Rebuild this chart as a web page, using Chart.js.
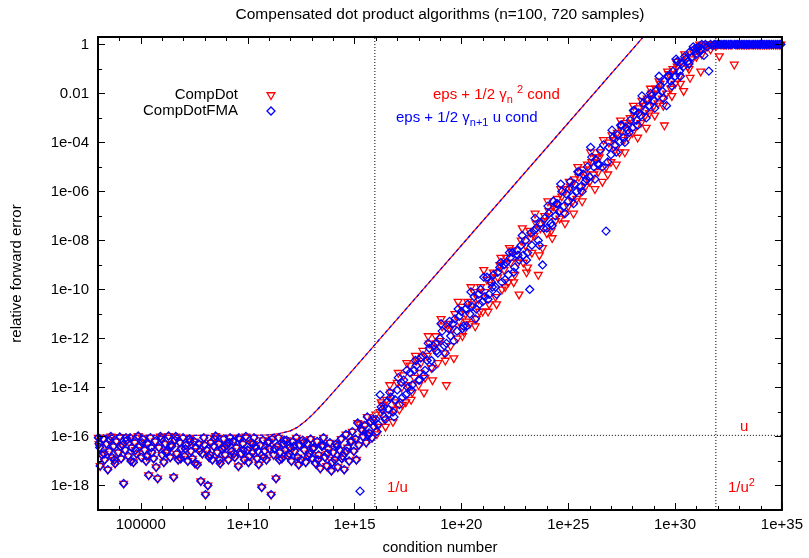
<!DOCTYPE html>
<html>
<head>
<meta charset="utf-8">
<title>Compensated dot product algorithms</title>
<script src="https://cdn.jsdelivr.net/npm/chart.js@4.4.1/dist/chart.umd.min.js"></script>
<style>
  html, body { margin: 0; padding: 0; background: #fff; }
  canvas { display: block; }
</style>
</head>
<body>
<canvas id="chart" width="809" height="558" style="width:809px;height:558px"></canvas>
<script>
// Log-log scatter of relative forward error vs condition number (gnuplot look).
// All sample values are kept as log10 exponents.

const TITLE = "Compensated dot product algorithms (n=100, 720 samples)";
const X_TITLE = "condition number";
const Y_TITLE = "relative forward error";

const X_MIN = 1e3, X_MAX = 1e35;
const Y_MIN = 1e-19, Y_MAX = 2;

// unit roundoff and the two condition thresholds marked by dotted lines
const U = 1.11e-16;
const INV_U = 9.0e15;
const INV_U2 = 8.1e31;

const xLabelExps = [5, 10, 15, 20, 25, 30, 35];
const xLabels = ["100000", "1e+10", "1e+15", "1e+20", "1e+25", "1e+30", "1e+35"];
const yLabelExps = [0, -2, -4, -6, -8, -10, -12, -14, -16, -18];
const yLabels = ["1", "0.01", "1e-04", "1e-06", "1e-08", "1e-10", "1e-12", "1e-14", "1e-16", "1e-18"];

// well-conditioned samples: both algorithms give the same error here
const flatCondLog = [
  3.02, 3.08, 3.10, 3.18, 3.25, 3.31, 3.40, 3.46, 3.52, 3.60, 3.66, 3.73, 3.80, 3.86, 3.95,
  4.02, 4.08, 4.15, 4.20, 4.27, 4.35, 4.42, 4.50, 4.58, 4.66, 4.72, 4.80, 4.88, 4.95,
  5.03, 5.10, 5.18, 5.25, 5.32, 5.37, 5.45, 5.52, 5.60, 5.68, 5.79, 5.85, 5.92,
  6.00, 6.08, 6.15, 6.22, 6.30, 6.38, 6.45, 6.54, 6.60, 6.68, 6.75, 6.83, 6.90, 6.98,
  7.05, 7.12, 7.20, 7.28, 7.35, 7.42, 7.50, 7.58, 7.65, 7.72, 7.81, 7.88, 7.95,
  8.03, 8.08, 8.14, 8.20, 8.28, 8.35, 8.42, 8.50, 8.58, 8.65, 8.72, 8.80, 8.88, 8.95,
  9.02, 9.10, 9.18, 9.25, 9.32, 9.40, 9.48, 9.57, 9.62, 9.70, 9.78, 9.85, 9.92,
  10.00, 10.08, 10.15, 10.22, 10.30, 10.38, 10.45, 10.52, 10.60, 10.66, 10.72, 10.80, 10.88, 10.95,
  11.02, 11.10, 11.15, 11.22, 11.33, 11.38, 11.45, 11.52, 11.60, 11.68, 11.75, 11.82, 11.90, 11.98,
  12.05, 12.12, 12.20, 12.28, 12.35, 12.42, 12.50, 12.58, 12.65, 12.72, 12.80, 12.88, 12.95,
  13.02, 13.10, 13.18, 13.25, 13.32, 13.40, 13.48, 13.55, 13.62, 13.70, 13.78, 13.85, 13.92,
  14.00, 14.08, 14.15, 14.22, 14.30, 14.38, 14.45, 14.52, 14.60, 14.68, 14.75, 14.82, 14.90, 14.97,
  15.05, 15.15, 15.20, 15.32, 15.40, 15.48, 15.55, 15.60, 15.68, 15.75, 15.82, 15.90,
];
const flatErrLog = [
  -16.05, -16.45, -17.20, -16.75, -16.10, -16.95, -16.30, -17.35, -16.60, -16.00, -16.85, -16.40, -17.10, -16.20, -16.65,
  -16.02, -16.90, -16.35, -17.92, -16.55, -16.15, -16.80, -16.05, -16.45, -17.05, -16.25, -16.70, -15.98, -16.40,
  -16.85, -16.10, -16.55, -17.00, -16.30, -17.58, -16.05, -16.65, -16.90, -16.20, -17.71, -16.45, -16.00,
  -16.75, -17.05, -16.30, -16.60, -15.98, -16.85, -16.40, -17.66, -16.15, -16.70, -16.95, -16.25, -16.50, -16.05,
  -16.80, -16.35, -17.00, -16.10, -16.60, -16.90, -16.20, -16.45, -17.15, -16.30, -17.82, -16.70, -16.05,
  -18.37, -16.55, -18.00, -16.85, -16.25, -16.95, -16.40, -15.98, -16.65, -16.30, -17.10, -16.50, -16.10, -16.75,
  -16.35, -16.95, -16.05, -16.60, -16.20, -16.85, -16.45, -17.21, -16.10, -16.70, -16.30, -16.95, -16.00,
  -16.55, -16.80, -16.25, -16.65, -16.05, -16.45, -16.90, -17.14, -16.35, -18.07, -16.15, -16.60, -16.95, -16.25,
  -16.50, -18.37, -16.10, -16.75, -17.71, -16.40, -16.05, -16.65, -16.90, -16.30, -16.55, -16.15, -16.80, -16.45,
  -17.00, -16.20, -16.60, -16.05, -16.85, -16.35, -16.95, -16.15, -16.55, -17.05, -16.30, -16.70, -16.10,
  -16.90, -16.45, -17.10, -16.20, -16.75, -17.30, -16.40, -16.05, -16.85, -17.20, -16.50, -16.25, -17.40,
  -16.65, -16.95, -16.30, -17.25, -16.55, -16.10, -16.80, -17.35, -15.92, -16.45, -17.00, -16.20, -15.80, -16.60,
  -16.10, -15.45, -16.35, -15.70, -16.00, -15.55, -16.25, -15.20, -15.85, -15.40, -16.05, -15.60,
];
const flat2CondLog = [
  3.05, 3.28, 3.55, 3.77, 4.05, 4.31, 4.54, 4.76, 5.06, 5.28,
  5.49, 5.72, 5.96, 6.18, 6.41, 6.64, 6.87, 7.09, 7.31, 7.54,
  7.76, 7.99, 8.24, 8.46, 8.69, 8.91, 9.14, 9.36, 9.59, 9.81,
  10.04, 10.26, 10.49, 10.76, 10.99, 11.26, 11.49, 11.71, 11.94, 12.16,
  12.39, 12.61, 12.84, 13.06, 13.29, 13.51, 13.74, 13.96, 14.19, 14.41,
  14.64, 14.86, 15.09, 15.36, 15.64, 15.86,
];
const flat2ErrLog = [
  -16.30, -16.70, -16.15, -16.95, -16.40, -16.05, -17.00, -16.55, -16.25, -16.80,
  -16.45, -17.25, -16.10, -16.65, -16.35, -16.00, -16.90, -16.50, -16.20, -17.10,
  -16.60, -16.35, -16.75, -16.10, -16.95, -16.45, -16.25, -16.70, -16.05, -16.55,
  -17.05, -16.30, -16.60, -16.85, -16.20, -16.50, -16.95, -16.15, -16.70, -16.40,
  -17.15, -16.25, -16.80, -16.50, -16.95, -16.35, -16.70, -17.05, -16.40, -16.90,
  -16.60, -16.20, -16.95, -15.75, -15.95, -15.30,
];

// ill-conditioned samples: error grows with the condition number
const riseCondLog = [
  15.26, 16.00, 16.10, 16.20, 16.30, 16.40, 16.50, 16.60, 16.70, 16.80, 16.90,
  17.00, 17.10, 17.20, 17.30, 17.40, 17.50, 17.60, 17.70, 17.80, 17.90,
  18.00, 18.10, 18.20, 18.30, 18.40, 18.50, 18.60, 18.70, 18.80, 18.90,
  19.00, 19.10, 19.20, 19.30, 19.40, 19.50, 19.60, 19.70, 19.80, 19.90,
  20.00, 20.10, 20.20, 20.30, 20.40, 20.50, 20.60, 20.70, 20.80, 20.90,
  21.00, 21.10, 21.20, 21.30, 21.40, 21.50, 21.60, 21.70, 21.80, 21.90,
  22.00, 22.10, 22.20, 22.30, 22.40, 22.50, 22.60, 22.70, 22.80, 22.90,
  23.00, 23.10, 23.20, 23.30, 23.40, 23.50, 23.60, 23.70, 23.80, 23.90,
  24.00, 24.10, 24.20, 24.30, 24.40, 24.50, 24.60, 24.70, 24.80, 24.90,
  25.00, 25.10, 25.20, 25.30, 25.40, 25.50, 25.60, 25.70, 25.80, 25.90,
  26.00, 26.10, 26.20, 26.30, 26.40, 26.50, 26.60, 26.77, 26.90,
  27.00, 27.10, 27.20, 27.30, 27.40, 27.50, 27.60, 27.70, 27.80, 27.90,
  28.00, 28.10, 28.20, 28.30, 28.40, 28.50, 28.60, 28.70, 28.80, 28.90,
  29.00, 29.10, 29.20, 29.30, 29.40, 29.50, 29.60, 29.70, 29.80, 29.90,
  30.00, 30.10, 30.20, 30.30, 30.40, 30.50, 30.60, 30.70, 30.80, 30.90,
  31.00, 31.10, 31.20,
];
const riseCompDotLog = [
  -15.50, -15.10, -15.60, -15.00, -14.70, -15.30, -14.50, -15.10, -14.20, -15.40, -14.60,
  -13.80, -14.90, -14.00, -13.50, -14.60, -13.90, -13.10, -14.20, -13.60, -12.90,
  -13.90, -13.00, -12.50, -13.60, -12.70, -12.20, -13.20, -12.40, -11.90, -13.00,
  -12.10, -11.50, -12.60, -13.90, -11.40, -12.30, -11.60, -11.00, -12.00, -11.30,
  -10.70, -11.70, -11.00, -10.50, -11.40, -10.60, -10.10, -11.20, -10.40, -9.90,
  -10.90, -10.10, -9.60, -10.60, -9.80, -9.30, -10.30, -9.50, -9.00, -10.00,
  -9.20, -8.70, -9.70, -8.90, -8.40, -9.40, -8.60, -10.20, -8.00, -8.90,
  -8.20, -9.10, -7.60, -8.50, -7.80, -7.30, -9.40, -7.50, -8.30, -7.00,
  -7.70, -6.80, -7.60, -6.60, -7.20, -6.30, -7.10, -6.20, -6.90, -5.90,
  -6.60, -5.80, -6.40, -5.50, -6.30, -5.40, -6.00, -5.10, -5.80, -4.90,
  -5.60, -4.80, -5.30, -4.60, -5.20, -4.40, -5.60, -5.00, -4.00,
  -4.80, -3.90, -4.30, -3.60, -4.40, -3.50, -3.90, -3.20, -3.80, -3.00,
  -3.60, -2.90, -3.30, -2.60, -3.20, -2.50, -2.90, -2.20, -2.80, -2.00,
  -2.50, -1.80, -2.40, -1.60, -2.20, -3.30, -2.00, -1.20, -1.80, -1.00,
  -1.60, -0.90, -1.30, -0.70, -1.90, -0.50, -0.90, -1.36, -0.60, -0.20,
  -0.50, -0.10, -1.10,
];
const riseCompDotFmaLog = [
  -18.23, -15.30, -15.50, -14.30, -14.90, -15.20, -14.60, -14.90, -14.40, -15.00, -14.50,
  -14.10, -14.70, -13.80, -13.70, -14.30, -14.00, -13.40, -13.90, -13.30, -13.10,
  -13.70, -12.80, -12.70, -13.30, -12.90, -12.40, -12.90, -12.30, -12.20, -12.60,
  -12.00, -11.70, -12.30, -12.20, -11.60, -11.90, -11.40, -11.20, -11.70, -11.10,
  -10.90, -11.50, -10.80, -10.60, -11.00, -10.70, -10.30, -10.80, -10.20, -10.00,
  -10.50, -10.30, -9.50, -10.20, -9.70, -9.40, -9.90, -9.30, -9.10, -9.70,
  -9.00, -8.90, -9.40, -8.70, -8.50, -9.10, -8.40, -8.80, -8.20, -8.60,
  -8.00, -8.50, -10.00, -8.20, -7.60, -7.50, -8.00, -7.30, -9.00, -7.10,
  -7.50, -6.90, -7.30, -6.40, -7.00, -6.50, -6.80, -6.00, -6.60, -6.10,
  -6.40, -5.60, -6.20, -5.70, -6.00, -5.20, -5.80, -5.30, -5.60, -5.00,
  -5.40, -4.60, -5.00, -4.70, -4.90, -4.30, -5.00, -7.62, -4.20,
  -4.50, -3.80, -4.10, -3.70, -4.00, -3.30, -3.80, -3.40, -3.50, -3.10,
  -3.40, -2.70, -3.10, -2.80, -2.90, -2.40, -2.70, -2.30, -2.50, -2.10,
  -2.30, -1.90, -2.10, -1.70, -1.90, -1.50, -2.50, -1.30, -1.50, -1.10,
  -1.30, -0.70, -1.10, -0.80, -0.90, -0.60, -0.70, -0.30, -0.50, -0.20,
  -0.40, -0.10, -0.20,
];
const rise2CondLog = [
  16.05, 16.25, 16.45, 16.65, 16.85, 17.05, 17.25, 17.45, 17.65, 17.85,
  18.05, 18.25, 18.45, 18.65, 18.85, 19.05, 19.25, 19.45, 19.65, 19.85,
  20.05, 20.25, 20.45, 20.65, 20.85, 21.05, 21.25, 21.45, 21.65, 21.85,
  22.05, 22.25, 22.45, 22.65, 22.85, 23.05, 23.25, 23.45, 23.65, 23.85,
  24.05, 24.25, 24.45, 24.65, 24.85, 25.05, 25.25, 25.45, 25.65, 25.85,
  26.05, 26.25, 26.45, 26.65, 26.85, 27.05, 27.25, 27.45, 27.65, 27.85,
  28.05, 28.25, 28.45, 28.65, 28.85, 29.05, 29.25, 29.45, 29.65, 29.85,
  30.05, 30.25, 30.45, 30.65, 30.85,
];
const rise2CompDotLog = [
  -15.9, -14.6, -15.6, -13.9, -14.9, -13.4, -14.7, -13.0, -14.5, -12.7,
  -13.4, -14.2, -11.9, -13.7, -12.2, -11.2, -12.9, -11.6, -12.8, -10.5,
  -11.9, -11.3, -9.9, -11.5, -10.9, -9.2, -10.9, -9.5, -10.6, -8.7,
  -9.9, -8.3, -9.7, -8.9, -7.5, -9.3, -7.9, -6.9, -8.6, -7.2,
  -6.4, -7.9, -6.7, -5.9, -7.3, -5.6, -6.9, -5.0, -6.4, -5.3,
  -4.4, -5.9, -4.6, -3.9, -5.3, -3.7, -4.9, -3.1, -4.4, -3.3,
  -2.5, -3.8, -2.3, -3.4, -1.8, -2.9, -1.5, -2.5, -1.1, -2.1,
  -0.7, -1.6, -0.4, -1.0, -0.3,
];
const rise2CompDotFmaLog = [
  -15.8, -14.8, -15.3, -14.2, -15.2, -13.6, -14.4, -13.3, -14.1, -12.9,
  -13.7, -13.5, -12.2, -13.2, -12.5, -11.4, -12.6, -11.3, -12.1, -10.8,
  -11.6, -11.5, -10.1, -11.2, -10.6, -9.5, -10.4, -9.9, -10.2, -8.9,
  -9.6, -8.5, -9.3, -8.6, -7.8, -8.8, -7.7, -7.1, -8.2, -7.5,
  -6.6, -7.4, -6.5, -5.7, -6.9, -5.9, -6.5, -5.2, -6.0, -5.5,
  -4.2, -5.5, -4.9, -4.1, -4.8, -3.5, -4.4, -3.3, -4.0, -3.6,
  -2.7, -3.3, -2.1, -3.0, -2.0, -2.6, -1.3, -2.2, -1.3, -1.7,
  -0.6, -1.3, -0.5, -0.8, -0.1,
];

// beyond 1/u^2 the error saturates at 1
const satCondLog = [
  31.05, 31.15, 31.25, 31.35, 31.42, 31.50, 31.58, 31.66, 31.75, 31.83, 31.90,
  32.00, 32.07, 32.15, 32.25, 32.33, 32.40, 32.50, 32.58, 32.66, 32.77, 32.85, 32.93,
  33.00, 33.10, 33.18, 33.26, 33.35, 33.42, 33.50, 33.60, 33.68, 33.76, 33.85, 33.93,
  34.00, 34.10, 34.18, 34.27, 34.35, 34.43, 34.52, 34.60, 34.70, 34.78, 34.87, 34.95,
];
const satCompDotLog = [
  -0.25, 0, -0.40, 0, -0.10, 0, 0, -0.20, 0, 0, -0.05,
  0, -0.48, 0, 0, 0, 0, 0, 0, 0, -0.82, 0, 0,
  0, 0, 0, 0, 0, 0, 0, 0, 0, 0, 0, 0,
  0, 0, 0, 0, 0, 0, 0, 0, 0, 0, 0, 0,
];
const satCompDotFmaLog = [
  -0.15, -0.30, 0, -0.45, 0, -0.10, -1.09, 0, -0.05, 0, 0,
  0, 0, 0, 0, 0, 0, 0, 0, 0, 0, 0, 0,
  0, 0, 0, 0, 0, 0, 0, 0, 0, 0, 0, 0,
  0, 0, 0, 0, 0, 0, 0, 0, 0, 0, 0, 0,
];

// a priori bounds, the two curves lie on top of each other
const boundCond = [1e3, 1e10, 3e10, 1e11, 3e11, 1e12, 2e12, 5e12, 1e13, 2e13, 5e13, 1e14, 1e15, 1e16, 1e20, 1e25, 1e29];
const boundGammaN2 = [1.1e-16, 1.1e-16, 1.12e-16, 1.16e-16, 1.3e-16, 1.7e-16, 2.3e-16, 4.2e-16, 7.3e-16, 1.35e-15, 3.2e-15, 6.3e-15, 6.2e-14, 6.2e-13, 6.2e-9, 6.2e-4, 6.2];
const boundGammaN1U = [1.1e-16, 1.1e-16, 1.12e-16, 1.16e-16, 1.3e-16, 1.7e-16, 2.3e-16, 4.2e-16, 7.3e-16, 1.35e-15, 3.2e-15, 6.3e-15, 6.2e-14, 6.2e-13, 6.2e-9, 6.2e-4, 6.2];

const RED = "#ff0000";
const BLUE = "#0000ff";
const FAMILY = "'Liberation Sans', Arial, Helvetica, sans-serif";
const FONT_SIZE = 15;
const TITLE_SIZE = 15.5;
const SMALL_SIZE = 11;

const toPoints = (condLog, errLog) => condLog.map((c, i) => ({ x: 10 ** c, y: 10 ** errLog[i] }));
const pairs = (xs, ys) => xs.map((x, i) => ({ x, y: ys[i] }));

const compDotPoints = [
  ...toPoints(flatCondLog, flatErrLog),
  ...toPoints(flat2CondLog, flat2ErrLog),
  ...toPoints(riseCondLog, riseCompDotLog),
  ...toPoints(rise2CondLog, rise2CompDotLog),
  ...toPoints(satCondLog, satCompDotLog),
];
const compDotFmaPoints = [
  ...toPoints(flatCondLog, flatErrLog),
  ...toPoints(flat2CondLog, flat2ErrLog),
  ...toPoints(riseCondLog, riseCompDotFmaLog),
  ...toPoints(rise2CondLog, rise2CompDotFmaLog),
  ...toPoints(satCondLog, satCompDotFmaLog),
];

function labelFor(value, exps, labels) {
  const e = Math.round(Math.log10(value));
  const i = exps.indexOf(e);
  return i >= 0 ? labels[i] : "";
}

function decades(min, max) {
  const out = [];
  for (let e = Math.round(Math.log10(min)); e <= Math.round(Math.log10(max)); e++) out.push(e);
  return out;
}

function drawRich(ctx, parts, x, y, color) {
  ctx.save();
  ctx.fillStyle = color;
  ctx.textAlign = "left";
  ctx.textBaseline = "alphabetic";
  let cx = x;
  for (const p of parts) {
    ctx.font = `${p.shift ? SMALL_SIZE : FONT_SIZE}px ${FAMILY}`;
    cx += p.gap || 0;
    ctx.fillText(p.text, cx, y + (p.shift || 0));
    cx += ctx.measureText(p.text).width;
  }
  ctx.restore();
}

const gnuplotFrame = {
  id: "gnuplotFrame",
  afterDatasetsDraw(chart) {
    const { ctx, chartArea: a, scales } = chart;
    ctx.save();
    ctx.strokeStyle = "#000";
    ctx.lineWidth = 1;
    // inward tick marks on all four sides
    for (const e of decades(X_MIN, X_MAX)) {
      const px = Math.round(scales.x.getPixelForValue(10 ** e)) + 0.5;
      const len = xLabelExps.includes(e) ? 7 : 4;
      ctx.beginPath();
      ctx.moveTo(px, a.bottom); ctx.lineTo(px, a.bottom - len);
      ctx.moveTo(px, a.top); ctx.lineTo(px, a.top + len);
      ctx.stroke();
    }
    for (const e of decades(Y_MIN, Y_MAX)) {
      const py = Math.round(scales.y.getPixelForValue(10 ** e)) + 0.5;
      const len = yLabelExps.includes(e) ? 7 : 4;
      ctx.beginPath();
      ctx.moveTo(a.left, py); ctx.lineTo(a.left + len, py);
      ctx.moveTo(a.right, py); ctx.lineTo(a.right - len, py);
      ctx.stroke();
    }
    ctx.lineWidth = 2;
    ctx.strokeRect(a.left, a.top, a.right - a.left, a.bottom - a.top);
    ctx.restore();
  },
  afterDraw(chart) {
    const { ctx, chartArea: a } = chart;
    const cx = (a.left + a.right) / 2;
    ctx.save();
    ctx.fillStyle = "#000";
    ctx.textAlign = "center";
    ctx.textBaseline = "middle";
    ctx.font = `${TITLE_SIZE}px ${FAMILY}`;
    ctx.fillText(TITLE, cx, 15);
    ctx.font = `${FONT_SIZE}px ${FAMILY}`;
    ctx.fillText(X_TITLE, cx, 548);
    ctx.save();
    ctx.translate(17, (a.top + a.bottom) / 2);
    ctx.rotate(-Math.PI / 2);
    ctx.fillText(Y_TITLE, 0, 0);
    ctx.restore();

    // key, gnuplot style: text right-aligned, sample to its right
    ctx.textAlign = "right";
    ctx.fillText("CompDot", 238, 95);
    ctx.fillText("CompDotFMA", 238, 111);
    ctx.fillStyle = "rgba(0,0,0,0)";
    ctx.lineWidth = 1.3;
    ctx.strokeStyle = RED;
    Chart.helpers.drawPoint(ctx, { pointStyle: "triangle", rotation: 180, radius: 4.5, borderWidth: 1.3 }, 271, 95);
    ctx.strokeStyle = BLUE;
    Chart.helpers.drawPoint(ctx, { pointStyle: "rectRot", rotation: 0, radius: 4, borderWidth: 1.3 }, 271, 111);

    drawRich(ctx, [{ text: "eps + 1/2 γ" }, { text: "n", shift: 4 }, { text: "2", shift: -6, gap: 4 }, { text: " cond" }], 433, 99, RED);
    drawRich(ctx, [{ text: "eps + 1/2 γ" }, { text: "n+1", shift: 4 }, { text: " u cond" }], 396, 122, BLUE);

    drawRich(ctx, [{ text: "1/u" }], 387, 492, RED);
    drawRich(ctx, [{ text: "u" }], 740, 431, RED);
    drawRich(ctx, [{ text: "1/u" }, { text: "2", shift: -6 }], 728, 492, RED);
    ctx.restore();
  },
};

const dotted = (data) => ({
  data, showLine: true, pointRadius: 0, borderColor: "#000", borderWidth: 1,
  borderDash: [1, 2], order: 10,
});

const tickFont = { family: FAMILY, size: FONT_SIZE };

new Chart(document.getElementById("chart"), {
  type: "scatter",
  data: {
    datasets: [
      dotted([{ x: INV_U, y: Y_MIN }, { x: INV_U, y: Y_MAX }]),
      dotted([{ x: INV_U2, y: Y_MIN }, { x: INV_U2, y: Y_MAX }]),
      dotted([{ x: INV_U, y: U }, { x: X_MAX, y: U }]),
      {
        label: "CompDot", data: compDotPoints, order: 5, clip: false,
        pointStyle: "triangle", pointRotation: 180, pointRadius: 4.5,
        pointBorderColor: RED, pointBackgroundColor: "rgba(0,0,0,0)", pointBorderWidth: 1.3,
      },
      {
        label: "CompDotFMA", data: compDotFmaPoints, order: 4, clip: false,
        pointStyle: "rectRot", pointRadius: 4,
        pointBorderColor: BLUE, pointBackgroundColor: "rgba(0,0,0,0)", pointBorderWidth: 1.3,
      },
      {
        label: "eps + 1/2 gamma_n^2 cond", data: pairs(boundCond, boundGammaN2), order: 3,
        showLine: true, pointRadius: 0, borderColor: RED, borderWidth: 1.2,
      },
      {
        label: "eps + 1/2 gamma_{n+1} u cond", data: pairs(boundCond, boundGammaN1U), order: 2,
        showLine: true, pointRadius: 0, borderColor: BLUE, borderWidth: 1.2, borderDash: [3, 3],
      },
    ],
  },
  options: {
    responsive: false,
    animation: false,
    events: [],
    layout: { padding: { top: 37, right: 26, left: 0, bottom: 0 } },
    plugins: { legend: { display: false }, tooltip: { enabled: false }, title: { display: false } },
    scales: {
      x: {
        type: "logarithmic", min: X_MIN, max: X_MAX,
        afterBuildTicks: (s) => { s.ticks = decades(X_MIN, X_MAX).map((e) => ({ value: 10 ** e })); },
        afterFit: (s) => { s.height = 48; },
        grid: { display: false, drawTicks: false },
        border: { display: false },
        ticks: {
          autoSkip: false, maxRotation: 0, padding: 6, color: "#000", font: tickFont,
          callback: (v) => labelFor(v, xLabelExps, xLabels),
        },
      },
      y: {
        type: "logarithmic", min: Y_MIN, max: Y_MAX,
        afterBuildTicks: (s) => { s.ticks = decades(Y_MIN, Y_MAX).map((e) => ({ value: 10 ** e })); },
        afterFit: (s) => { s.width = 98; },
        grid: { display: false, drawTicks: false },
        border: { display: false },
        ticks: {
          autoSkip: false, padding: 9, color: "#000", font: tickFont,
          callback: (v) => labelFor(v, yLabelExps, yLabels),
        },
      },
    },
  },
  plugins: [gnuplotFrame],
});
</script>
</body>
</html>
